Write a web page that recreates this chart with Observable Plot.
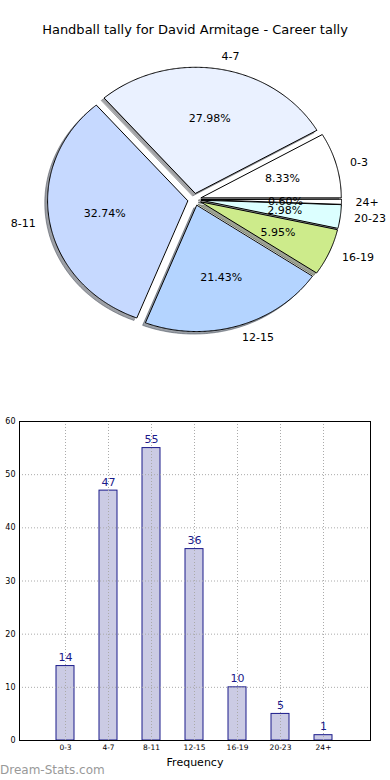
<!DOCTYPE html>
<html><head><meta charset="utf-8">
<script src="https://cdn.jsdelivr.net/npm/d3@7"></script>
<script src="https://cdn.jsdelivr.net/npm/@observablehq/plot@0.6"></script>
<style>
body{margin:0;background:#fff;font-family:"DejaVu Sans",sans-serif;}
#wrap{position:relative;width:390px;height:780px;overflow:hidden;background:#fff;}
#title{position:absolute;top:23px;left:0;width:390px;text-align:center;font-size:13px;line-height:13px;color:#000;}
#pie{position:absolute;top:40px;left:0;}
#bar{position:absolute;top:400px;left:0;}
#wm{position:absolute;left:0;top:764px;font-size:12px;line-height:12px;color:#999;}
svg{display:block;}
</style></head><body>
<div id="wrap">
<div id="title">Handball tally for David Armitage - Career tally</div>
<div id="pie"></div>
<div id="bar"></div>
<div id="wm">Dream-Stats.com</div>
</div>
<script>
const categories = ["0-3","4-7","8-11","12-15","16-19","20-23","24+"];
const frequency = [14,47,55,36,10,5,1];
const sliceColors = ["#ffffff","#eaf1ff","#c6d9ff","#b4d4ff","#cdeb8b","#dcffff","#ffffff"];
const yTicks = [0,10,20,30,40,50,60];

const total = d3.sum(frequency);
const EXPLODE = 0.05, SHADOW = -0.02;
let acc = 0;
const slices = categories.map((c,i)=>{
  const a0 = acc/total*2*Math.PI; acc += frequency[i]; const a1 = acc/total*2*Math.PI;
  const am = (a0+a1)/2;
  const ox = EXPLODE*Math.cos(am), oy = EXPLODE*Math.sin(am);
  const n = Math.max(2, Math.ceil((a1-a0)/(Math.PI/360)));
  const pts = [{x:ox,y:oy}];
  for(let k=0;k<=n;k++){const a=a0+(a1-a0)*k/n; pts.push({x:ox+Math.cos(a), y:oy+Math.sin(a)});}
  const col = d3.rgb(sliceColors[i]);
  const shadowCol = d3.rgb(col.r*0.3, col.g*0.3, col.b*0.3).formatHex();
  return {c,i,am,ox,oy,pts,pct:frequency[i]/total*100,color:sliceColors[i],shadowCol};
});

const pieMarks = [];
for (const s of slices) {
  pieMarks.push(Plot.line(s.pts, {x: d=>d.x+SHADOW, y: d=>d.y+SHADOW, curve:"linear-closed",
    fill: s.shadowCol, fillOpacity:0.5, stroke: s.shadowCol, strokeOpacity:0.5, strokeWidth:1}));
}
for (const s of slices) {
  pieMarks.push(Plot.line(s.pts, {x:"x", y:"y", curve:"linear-closed",
    fill: s.color, stroke:"#000", strokeWidth:1, strokeLinejoin:"miter", strokeMiterlimit:4}));
}
const LD = 1.1, PD = 0.6;
pieMarks.push(Plot.text(slices.filter(d=>Math.cos(d.am)>0), {x: d=>d.ox+LD*Math.cos(d.am), y: d=>d.oy+LD*Math.sin(d.am), text:"c", textAnchor:"start", fill:"#000"}));
pieMarks.push(Plot.text(slices.filter(d=>Math.cos(d.am)<=0), {x: d=>d.ox+LD*Math.cos(d.am), y: d=>d.oy+LD*Math.sin(d.am), text:"c", textAnchor:"end", fill:"#000"}));
pieMarks.push(Plot.text(slices, {x: d=>d.ox+PD*Math.cos(d.am), y: d=>d.oy+PD*Math.sin(d.am), text: d=>d.pct.toFixed(2)+"%", fill:"#000"}));

const pie = Plot.plot({
  width:390, height:340, margin:0,
  x:{domain:[-194/140, 196/140], axis:null},
  y:{domain:[-181/126, 159/126], axis:null},
  style:{fontFamily:"DejaVu Sans", fontSize:"11px", background:"transparent", overflow:"visible"},
  marks: pieMarks
});
document.getElementById("pie").appendChild(pie);

const barData = categories.map((c,i)=>({cat:c, value:frequency[i]}));
const bar = Plot.plot({
  width:390, height:370, marginLeft:19, marginRight:20, marginTop:21, marginBottom:30,
  x:{type:"band", domain:categories, paddingInner:0.57, paddingOuter:0.775, align:0.5},
  y:{domain:[0,60]},
  style:{fontFamily:"DejaVu Sans", background:"transparent", overflow:"visible"},
  marks:[
    Plot.barY(barData, {x:"cat", y:"value", fill:"#cbcbe4", stroke:"#1a1a8a", strokeWidth:1}),
    Plot.gridY(yTicks.slice(1,-1), {stroke:"#aaa", strokeOpacity:1, strokeDasharray:"1,2"}),
    Plot.gridX(categories, {stroke:"#aaa", strokeOpacity:1, strokeDasharray:"1,2"}),
    Plot.axisY(yTicks, {tickSize:0, tickPadding:4, fontSize:8, label:null}),
    Plot.axisX({tickSize:0, tickPadding:4, fontSize:7.5, label:null}),
    Plot.text(barData, {x:"cat", y:"value", text: d=>String(d.value), dy:-8.5, fill:"#1a1a8a", fontSize:11}),
    Plot.text(["Frequency"], {frameAnchor:"bottom", text: d=>d, dy:25, fontSize:11, fill:"#000"}),
    Plot.frame({stroke:"#000"})
  ]
});
document.getElementById("bar").appendChild(bar);
</script>
</body></html>
